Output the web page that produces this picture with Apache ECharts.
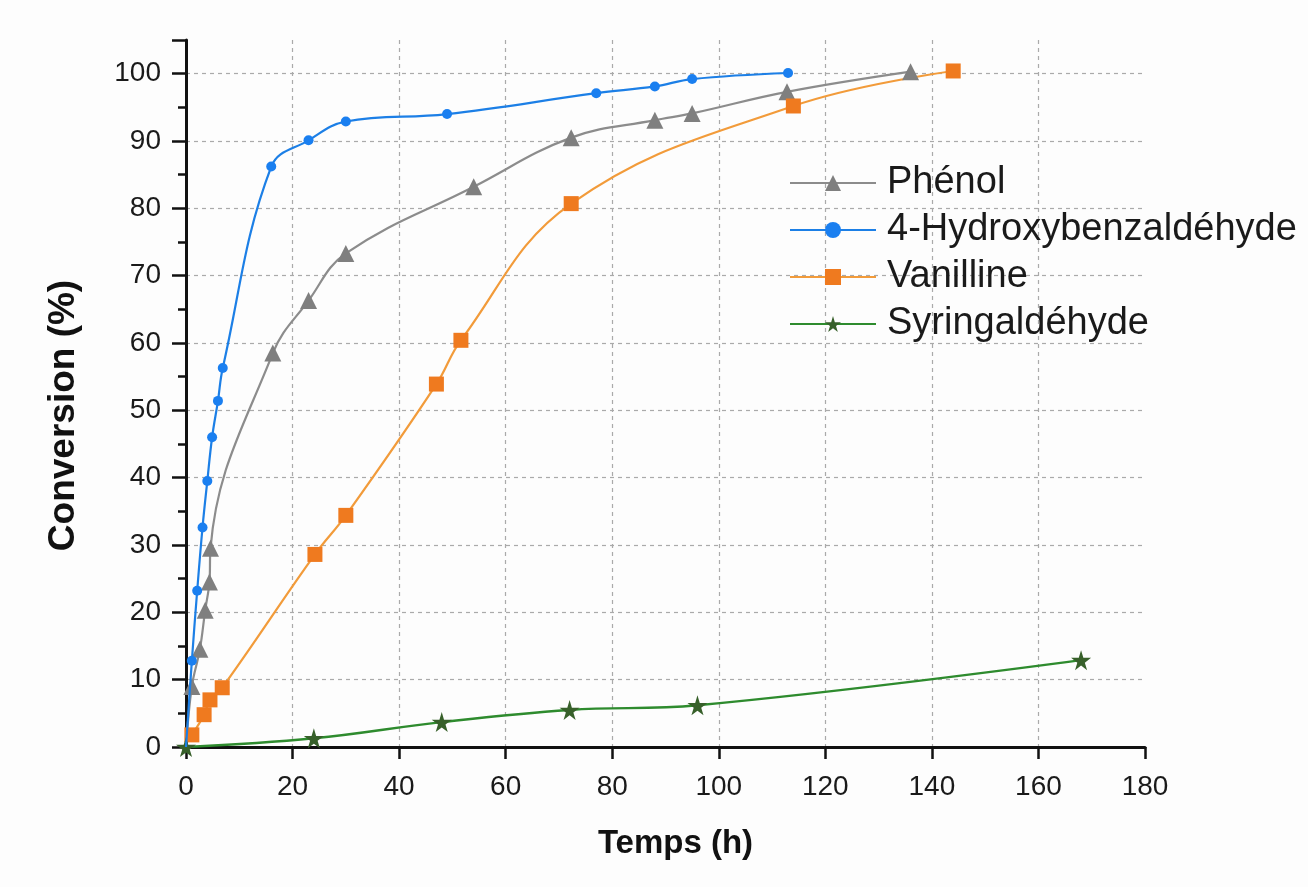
<!DOCTYPE html>
<html>
<head>
<meta charset="utf-8">
<script src="https://cdn.jsdelivr.net/npm/echarts@6/dist/echarts.min.js"></script>
<style>
html,body{margin:0;padding:0;background:#fdfdfd;}
#chart{width:1308px;height:887px;}
</style>
</head>
<body>
<div id="chart"></div>
<script>
// Data
const xTicks = [0, 20, 40, 60, 80, 100, 120, 140, 160, 180];
const yTicks = [0, 10, 20, 30, 40, 50, 60, 70, 80, 90, 100];

const phenolTime = [0, 1.1, 2.6, 3.6, 4.4, 4.6, 16.3, 23, 30, 54, 72.3, 88, 95, 112.8, 136];
const phenolConv = [0, 9, 14.5, 20.3, 24.5, 29.5, 58.5, 66.3, 73.3, 83.2, 90.5, 93.1, 94.1, 97.3, 100.3];

const hbaTime = [0, 1.1, 2.1, 3.1, 4.0, 4.9, 6.0, 6.9, 16, 23, 30, 49, 77, 88, 95, 113];
const hbaConv = [0, 12.8, 23.2, 32.6, 39.5, 46.0, 51.4, 56.3, 86.2, 90.1, 92.9, 94.0, 97.1, 98.1, 99.2, 100.1];

const vanTime = [1.1, 3.4, 4.5, 6.8, 24.2, 30, 47, 51.6, 72.3, 114, 144];
const vanConv = [1.8, 4.8, 7.0, 8.8, 28.6, 34.4, 53.9, 60.4, 80.7, 95.2, 100.4];

const syrTime = [0, 24, 48, 72, 96, 168];
const syrConv = [0, 1.3, 3.7, 5.5, 6.2, 12.9];

function pairs(t, c, hideOrigin) {
  return t.map((x, i) => {
    if (hideOrigin && i === 0 && x === 0 && c[i] === 0) {
      return { value: [x, c[i]], symbol: 'none' };
    }
    return [x, c[i]];
  });
}

const chart = echarts.init(document.getElementById('chart'));
const axisFont = 'Liberation Sans, Arial, Helvetica, sans-serif';

chart.setOption({
  backgroundColor: '#fdfdfd',
  animation: false,
  grid: { left: 186, right: 163, top: 40, bottom: 140, containLabel: false },
  legend: {
    orient: 'vertical',
    left: 784,
    top: 159,
    itemWidth: 86,
    itemHeight: 20,
    itemGap: 9,
    textStyle: { fontSize: 38, color: '#1a1a1a', fontFamily: axisFont, padding: [0, 0, 0, 6] },
    data: ['Phénol', '4-Hydroxybenzaldéhyde', 'Vanilline', 'Syringaldéhyde']
  },
  xAxis: {
    type: 'value',
    min: xTicks[0],
    max: xTicks[xTicks.length - 1],
    interval: 20,
    name: 'Temps (h)',
    nameLocation: 'middle',
    nameGap: 80,
    nameTextStyle: { fontSize: 33, fontWeight: 'bold', color: '#111', fontFamily: axisFont, padding: [0, 0, 0, 20] },
    axisLine: { show: true, onZero: false, lineStyle: { color: '#111', width: 3 } },
    axisTick: { show: true, length: 12, lineStyle: { color: '#111', width: 2.5 } },
    axisLabel: { fontSize: 28, color: '#1a1a1a', fontFamily: axisFont, margin: 26 },
    splitLine: { show: true, showMinLine: false, showMaxLine: false, lineStyle: { color: '#aaaaaa', type: [4, 4], width: 1.2 } }
  },
  yAxis: {
    type: 'value',
    min: yTicks[0],
    max: 105,
    interval: 10,
    name: 'Conversion (%)',
    nameLocation: 'middle',
    nameGap: 104,
    nameRotate: 90,
    nameTextStyle: { fontSize: 37, fontWeight: 'bold', color: '#111', fontFamily: axisFont, padding: [0, 44, 0, 0] },
    axisLine: { show: true, onZero: false, lineStyle: { color: '#111', width: 3 } },
    axisTick: { show: true, length: 14, lineStyle: { color: '#111', width: 2.5 } },
    minorTick: { show: true, splitNumber: 2, length: 8, lineStyle: { color: '#111', width: 2.5 } },
    axisLabel: {
      fontSize: 28, color: '#1a1a1a', fontFamily: axisFont, margin: 25,
      showMaxLabel: false,
      formatter: v => (yTicks.indexOf(v) >= 0 ? String(v) : '')
    },
    splitLine: { show: true, showMinLine: false, showMaxLine: false, lineStyle: { color: '#aaaaaa', type: [4, 4], width: 1.2 } }
  },
  series: [
    {
      name: 'Phénol', type: 'line', smooth: 0.4,
      data: pairs(phenolTime, phenolConv, true),
      symbol: 'triangle', symbolSize: 17,
      lineStyle: { color: '#8c8c8c', width: 2.2 },
      itemStyle: { color: '#7f7f7f' },
      z: 3
    },
    {
      name: '4-Hydroxybenzaldéhyde', type: 'line', smooth: 0.4,
      data: pairs(hbaTime, hbaConv, true),
      symbol: 'circle', symbolSize: 10,
      lineStyle: { color: '#1c7fe6', width: 2.2 },
      itemStyle: { color: '#1a7ff0' },
      z: 4
    },
    {
      name: 'Vanilline', type: 'line', smooth: 0.4,
      data: pairs(vanTime, vanConv, false),
      symbol: 'rect', symbolSize: 15,
      lineStyle: { color: '#f29b3a', width: 2.2 },
      itemStyle: { color: '#ef7a1f' },
      z: 3
    },
    {
      name: 'Syringaldéhyde', type: 'line', smooth: 0.4,
      data: pairs(syrTime, syrConv, false),
      symbol: 'path://M50,0 L61,35 L98,35 L68,57 L79,91 L50,70 L21,91 L32,57 L2,35 L39,35 Z',
      symbolSize: 20,
      lineStyle: { color: '#2e8b2e', width: 2.4 },
      itemStyle: { color: '#37602a' },
      z: 3
    }
  ]
});
</script>
</body>
</html>
